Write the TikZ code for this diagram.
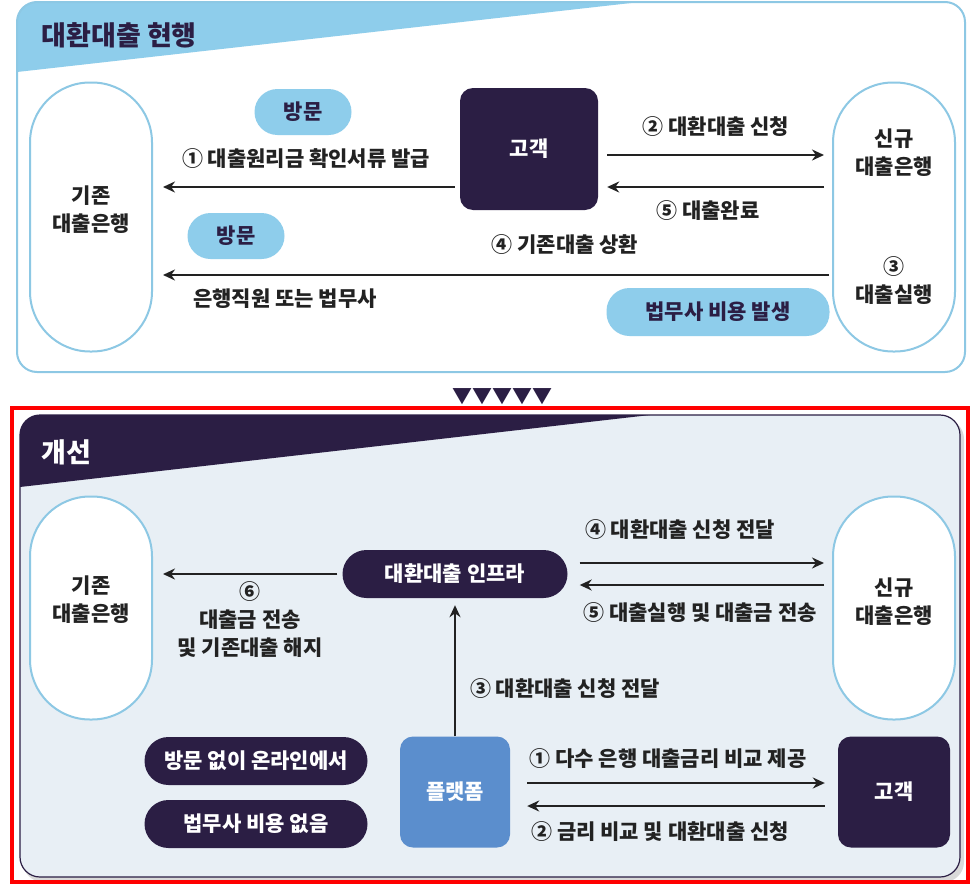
\documentclass[tikz,border=0pt]{standalone}
\usepackage{fontspec}
\setmainfont{Noto Sans CJK KR}
\usetikzlibrary{arrows.meta}

\definecolor{skyline}{HTML}{8DC8E4}
\definecolor{skyfill}{HTML}{8ECDEB}
\definecolor{navy}{HTML}{2B1E44}
\definecolor{platblue}{HTML}{5B8ECD}
\definecolor{panelbg}{HTML}{E8EFF5}
\definecolor{ink}{HTML}{222222}

\tikzset{
  bank/.style={draw=skyline, line width=2pt, fill=white, rounded corners=60pt, minimum width=122pt},
  darkbox/.style={fill=navy, text=white, rounded corners=13pt, font=\fontsize{21}{26}\selectfont\bfseries},
  skypill/.style={fill=skyfill, text=navy, rounded corners=23pt, minimum height=46pt, font=\fontsize{21}{26}\selectfont\bfseries},
  navypill/.style={fill=navy, text=white, rounded corners=24pt, minimum height=48pt, font=\fontsize{21}{26}\selectfont\bfseries},
  flow/.style={line width=2.2pt, ink, -{Stealth[length=12pt,width=11pt]}},
  lbl/.style={text=ink, align=center, font=\fontsize{21}{28}\selectfont\bfseries},
}

\begin{document}
\begin{tikzpicture}[x=1pt, y=-1pt]
 \useasboundingbox (0,0) rectangle (974,894);

 % current process panel
 \begin{scope}
  \clip[rounded corners=20pt] (17,2) rectangle (965,372);
  \fill[white] (17,2) rectangle (965,372);
  \fill[skyfill] (17,2) -- (640,2) -- (17,72) -- cycle;
 \end{scope}
 \draw[skyline, line width=2pt, rounded corners=20pt] (17,2) rectangle (965,372);
 \node[anchor=west, text=navy, font=\fontsize{27}{32}\selectfont\bfseries] (titleA) at (38,35) {대환대출 현행};

 \node[bank, minimum height=269pt] (oldA) at (91,217) {};
 \node[bank, minimum height=269pt] (newA) at (894,217) {};
 \node[darkbox, minimum width=138pt, minimum height=122pt] (custA) at (529,149) {고객};
 \node[skypill, minimum width=97pt] (visitA) at (303,112) {방문};
 \node[skypill, minimum width=97pt] (visitB) at (236,236) {방문};
 \node[skypill, minimum width=223pt, minimum height=48pt] (feeA) at (718,312) {법무사 비용 발생};

 \node[lbl] (oldAtxt) at (91,210) {기존\\대출은행};
 \node[lbl] (newAtxt) at (894,153) {신규\\대출은행};
 \node[lbl] (execA) at (894,281) {③\\대출실행};

 \draw[flow, shorten <=5pt, shorten >=10pt] ([yshift=-38pt]custA.west) -- ([yshift=30pt]oldA.east);
 \draw[flow, shorten <=9pt, shorten >=8pt] ([yshift=-6pt]custA.east) -- ([yshift=62pt]newA.west);
 \draw[flow, shorten <=8pt, shorten >=9pt] ([yshift=30pt]newA.west) -- ([yshift=-38pt]custA.east);
 \draw[flow, shorten <=3pt, shorten >=10pt] ([yshift=-58pt]newA.west) -- ([yshift=-58pt]oldA.east);

 \node[lbl] (stepA1) at (306,159) {① 대출원리금 확인서류 발급};
 \node[lbl] (stepA2) at (716,127) {② 대환대출 신청};
 \node[lbl] (stepA5) at (708,211) {⑤ 대출완료};
 \node[lbl] (stepA4) at (565,245) {④ 기존대출 상환};
 \node[lbl] (staffA) at (285,299) {은행직원 또는 법무사};

 % down marks
 \node[text=navy, font=\fontsize{20}{22}\selectfont] (marks) at (502,397) {▼▼▼▼▼};

 % improved process panel
 \fill[black!15, rounded corners=20pt] (23,419) rectangle (964,882);
 \begin{scope}
  \clip[rounded corners=20pt] (20,415) rectangle (960,877);
  \fill[panelbg] (20,415) rectangle (960,877);
  \fill[navy] (20,415) -- (650,415) -- (20,487) -- cycle;
 \end{scope}
 \draw[navy, line width=1.2pt, rounded corners=20pt] (20,415) rectangle (960,877);
 \node[anchor=west, text=white, font=\fontsize{27}{32}\selectfont\bfseries] (titleB) at (38,452) {개선};

 \node[bank, minimum height=223pt] (oldB) at (91,608) {};
 \node[bank, minimum height=223pt] (newB) at (894,608) {};
 \node[navypill, minimum width=225pt] (infra) at (455,574) {대환대출 인프라};
 \node[darkbox, fill=platblue, minimum width=110pt, minimum height=111pt] (plat) at (455,792) {플랫폼};
 \node[darkbox, minimum width=112pt, minimum height=111pt] (custB) at (894,792) {고객};
 \node[navypill, minimum width=223pt] (online) at (256,761) {방문 없이 온라인에서};
 \node[navypill, minimum width=223pt] (nofee) at (256,824) {법무사 비용 없음};

 \node[lbl] (oldBtxt) at (91,600) {기존\\대출은행};
 \node[lbl] (newBtxt) at (894,602) {신규\\대출은행};

 \draw[flow, shorten <=5pt, shorten >=10pt] (infra.west) -- ([yshift=34pt]oldB.east);
 \draw[flow, shorten <=12pt, shorten >=8pt] ([yshift=11pt]infra.east) -- ([yshift=45pt]newB.west);
 \draw[flow, shorten <=8pt, shorten >=12pt] ([yshift=23pt]newB.west) -- ([yshift=-11pt]infra.east);
 \draw[flow, shorten >=7pt] (plat.north) -- (infra.south);
 \draw[flow, shorten <=17pt, shorten >=13pt] ([yshift=9pt]plat.east) -- ([yshift=9pt]custB.west);
 \draw[flow, shorten <=13pt, shorten >=17pt] ([yshift=-14pt]custB.west) -- ([yshift=-14pt]plat.east);

 \node[lbl] (stepB6) at (250,620) {⑥\\대출금 전송\\및 기존대출 해지};
 \node[lbl] (stepB4) at (680,530) {④ 대환대출 신청 전달};
 \node[lbl] (stepB5) at (700,613) {⑤ 대출실행 및 대출금 전송};
 \node[lbl] (stepB3) at (565,689) {③ 대환대출 신청 전달};
 \node[lbl] (stepB1) at (668,759) {① 다수 은행 대출금리 비교 제공};
 \node[lbl] (stepB2) at (660,832) {② 금리 비교 및 대환대출 신청};

 \draw[red, line width=4pt] (12,408) rectangle (968,882);
\end{tikzpicture}
\end{document}
